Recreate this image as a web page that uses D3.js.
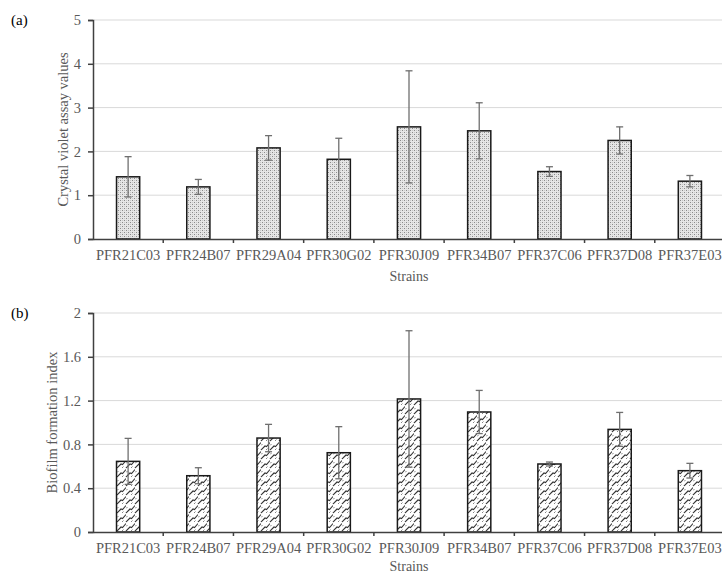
<!DOCTYPE html>
<html>
<head>
<meta charset="utf-8">
<script src="https://cdn.jsdelivr.net/npm/d3@7"></script>
<style>
  html, body { margin: 0; padding: 0; background: #fff; }
  svg { display: block; }
</style>
</head>
<body>
<svg id="chart" width="722" height="573"></svg>
<script>
// ---- data ----
const strains = ["PFR21C03","PFR24B07","PFR29A04","PFR30G02","PFR30J09","PFR34B07","PFR37C06","PFR37D08","PFR37E03"];
const crystalViolet = [1.42, 1.19, 2.08, 1.82, 2.56, 2.47, 1.54, 2.25, 1.32];
const crystalVioletErr = [0.46, 0.17, 0.28, 0.48, 1.28, 0.64, 0.11, 0.31, 0.13];
const biofilmIndex = [0.645, 0.514, 0.858, 0.724, 1.215, 1.096, 0.621, 0.937, 0.56];
const biofilmErr = [0.21, 0.073, 0.125, 0.238, 0.623, 0.197, 0.018, 0.155, 0.067];
const ticksA = [0, 1, 2, 3, 4, 5];
const ticksB = [0, 0.4, 0.8, 1.2, 1.6, 2];

const svg = d3.select("#chart");
const FONT = "'Liberation Serif', 'Times New Roman', serif";
const GRAY_TXT = "#595959";

// patterns
const defs = svg.append("defs");
const pa = defs.append("pattern").attr("id","dots").attr("patternUnits","userSpaceOnUse")
  .attr("width",4).attr("height",4);
pa.append("rect").attr("width",4).attr("height",4).attr("fill","#e6e6e6");
pa.append("rect").attr("x",0).attr("y",0).attr("width",1).attr("height",1).attr("fill","#8a8a8a");
pa.append("rect").attr("x",2).attr("y",2).attr("width",1).attr("height",1).attr("fill","#8a8a8a");
pa.append("rect").attr("x",2).attr("y",0).attr("width",1).attr("height",1).attr("fill","#c8c8c8");
pa.append("rect").attr("x",0).attr("y",2).attr("width",1).attr("height",1).attr("fill","#c8c8c8");

const pb = defs.append("pattern").attr("id","hatch").attr("patternUnits","userSpaceOnUse")
  .attr("width",9).attr("height",9);
pb.append("rect").attr("width",9).attr("height",9).attr("fill","#fff");
pb.append("path").attr("d","M0,9 L4,5 L5.5,5.5 L9,1.5 M-1,1 L0,0 M8,10 L9,9")
  .attr("stroke","#333").attr("stroke-width",1.1).attr("fill","none");
pb.append("path").attr("d","M5,9 L6.5,7.5 M0,4.5 L1.5,3")
  .attr("stroke","#666").attr("stroke-width",0.8).attr("fill","none");

function panel(opts) {
  const x = d3.scaleBand().domain(strains).range([93, 725]).paddingInner(0).paddingOuter(0);
  const y = d3.scaleLinear().domain([0, opts.max]).range([opts.y0, opts.y1]);
  const g = svg.append("g");

  // gridlines
  g.selectAll(".grid").data(opts.ticks.filter(t => t > 0)).join("line")
    .attr("x1", 94).attr("x2", 725)
    .attr("y1", d => y(d)).attr("y2", d => y(d))
    .attr("stroke", "#d9d9d9").attr("stroke-width", 1);

  // bars
  const bw = x.bandwidth() * 0.33;
  g.selectAll(".bar").data(opts.values).join("rect")
    .attr("x", (d,i) => x(strains[i]) + x.bandwidth()/2 - bw/2)
    .attr("width", bw)
    .attr("y", d => y(d))
    .attr("height", d => y(0) - y(d))
    .attr("fill", opts.fill).attr("stroke", "#1a1a1a").attr("stroke-width", 1.5);

  // error bars
  const eb = g.selectAll(".err").data(opts.values.map((v,i)=>({v, e: opts.errs[i], s: strains[i]}))).join("g");
  eb.append("line")
    .attr("x1", d => x(d.s) + x.bandwidth()/2).attr("x2", d => x(d.s) + x.bandwidth()/2)
    .attr("y1", d => y(d.v + d.e)).attr("y2", d => y(d.v - d.e))
    .attr("stroke", "#6f6f6f").attr("stroke-width", 1.3);
  [1, -1].forEach(sg => {
    eb.append("line")
      .attr("x1", d => x(d.s) + x.bandwidth()/2 - 3.5).attr("x2", d => x(d.s) + x.bandwidth()/2 + 3.5)
      .attr("y1", d => y(d.v + sg*d.e)).attr("y2", d => y(d.v + sg*d.e))
      .attr("stroke", "#6f6f6f").attr("stroke-width", 1.3);
  });

  // y axis
  const ya = d3.axisLeft(y).tickValues(opts.ticks).tickSize(5).tickPadding(7)
    .tickFormat(d => d3.format(opts.fmt)(d));
  const yg = g.append("g").attr("transform", "translate(93,0)").call(ya);
  yg.select(".domain").attr("stroke", "#404040").attr("stroke-width", 1.5);
  yg.selectAll(".tick line").attr("stroke", "#404040").attr("stroke-width", 1.5);
  yg.selectAll("text").attr("fill", GRAY_TXT).style("font-family", FONT).style("font-size", "14.5px");

  // x axis
  const xa = d3.axisBottom(x).tickSize(0).tickPadding(11);
  const xg = g.append("g").attr("transform", `translate(0,${opts.y0})`).call(xa);
  xg.select(".domain").attr("stroke", "#404040").attr("stroke-width", 1.5);
  xg.selectAll("text").attr("fill", GRAY_TXT).style("font-family", FONT).style("font-size", "14.5px");
  // boundary ticks
  g.selectAll(".btick").data(strains.slice(1)).join("line")
    .attr("x1", d => x(d)).attr("x2", d => x(d))
    .attr("y1", opts.y0).attr("y2", opts.y0 + 4)
    .attr("stroke", "#404040").attr("stroke-width", 1.5);

  // axis titles
  g.append("text").attr("x", 409).attr("y", opts.y0 + opts.titleOff).attr("text-anchor", "middle")
    .attr("fill", GRAY_TXT).style("font-family", FONT).style("font-size", "14px").text("Strains");
  g.append("text").attr("transform", `translate(${opts.ylabX},${(opts.y0+opts.y1)/2}) rotate(-90)`)
    .attr("text-anchor", "middle").attr("fill", GRAY_TXT)
    .style("font-family", FONT).style("font-size", "14.5px").text(opts.ylabel);

  g.append("text").attr("x", 11).attr("y", opts.y1 + 5).attr("fill", "#000")
    .style("font-family", FONT).style("font-size", "15px").text(opts.tag);
}

panel({ values: crystalViolet, errs: crystalVioletErr, ticks: ticksA, max: 5, fmt: "d",
  y0: 239, y1: 20, fill: "url(#dots)", ylabel: "Crystal violet assay values", ylabX: 68, tag: "(a)", titleOff: 42 });
panel({ values: biofilmIndex, errs: biofilmErr, ticks: ticksB, max: 2, fmt: "~g",
  y0: 532, y1: 313, fill: "url(#hatch)", ylabel: "Biofilm formation index", ylabX: 57, tag: "(b)", titleOff: 39 });
</script>
</body>
</html>
